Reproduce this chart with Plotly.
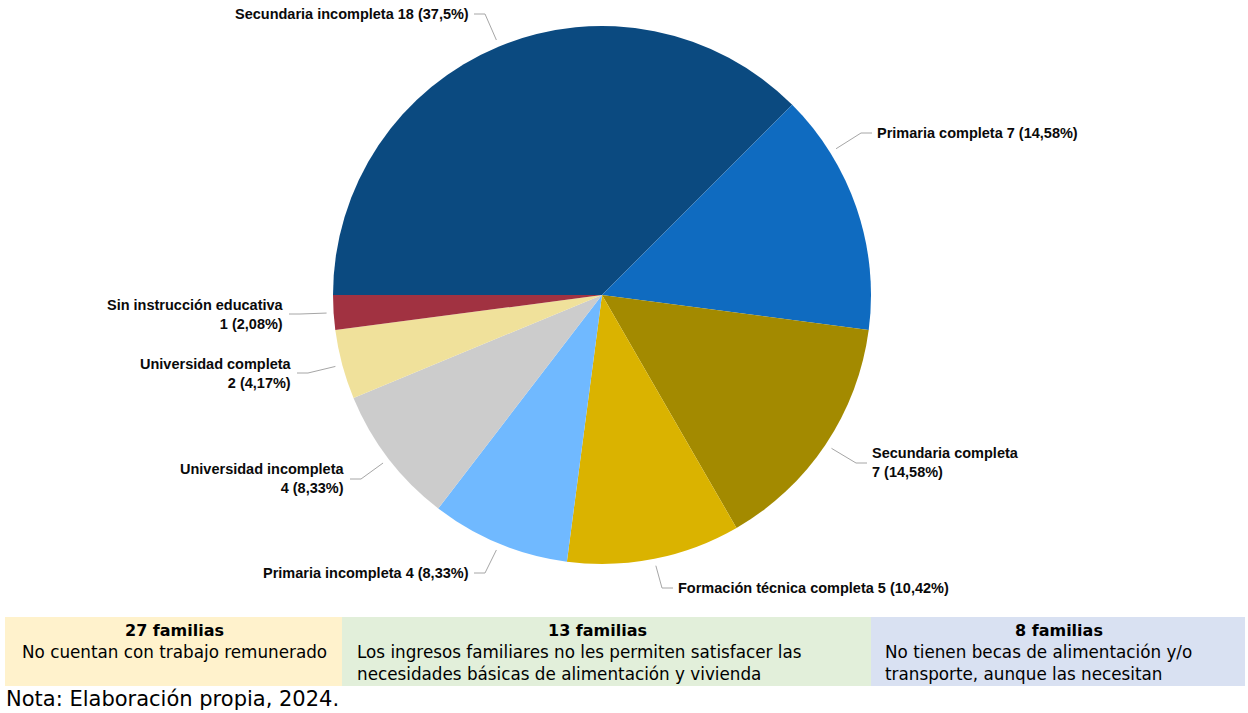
import math
import plotly.graph_objects as go

# ---------------- data ----------------
categories = [
    "Secundaria incompleta",
    "Primaria completa",
    "Secundaria completa",
    "Formación técnica completa",
    "Primaria incompleta",
    "Universidad incompleta",
    "Universidad completa",
    "Sin instrucción educativa",
]
values = [18, 7, 7, 5, 4, 4, 2, 1]
slice_colors = ["#0b4a80", "#0f6bc0", "#a38a00", "#dab300",
                "#70b9ff", "#cccccc", "#f0e19b", "#a13241"]

box_counts = ["27 familias", "13 familias", "8 familias"]
box_texts = [
    "No cuentan con trabajo remunerado",
    "Los ingresos familiares no les permiten satisfacer las<br>necesidades básicas de alimentación y vivienda",
    "No tienen becas de alimentación y/o<br>transporte, aunque las necesitan",
]
note_text = "Nota: Elaboración propia, 2024."

# ---------------- layout config ----------------
W, H = 1248, 713
CX, CY, R = 602, 295, 269
START_DEG = 270  # first slice starts at 9 o'clock, clockwise

# label placement (pixel text anchor x, centre y, side of line, two-line?)
label_cfg = [
    (470, 14, "right", False),
    (876, 133, "left", False),
    (871, 463, "left", True),
    (677, 588, "left", False),
    (470, 573, "right", False),
    (346, 479, "right", True),
    (293, 373, "right", True),
    (285, 314, "right", True),
]
connector_angle_override = {1: 58}

box_x = [(5, 342), (342, 871), (871, 1245)]
box_y = (617, 686)
box_colors = ["#fff2cc", "#e2efda", "#d9e1f2"]
box_title_x = [174, 597, 1059]
box_text_cfg = [(174, "center"), (356, "left"), (884, "left")]

BOX_FONT = "DejaVu Sans, Liberation Sans, Arial, sans-serif"
LABEL_FONT = "Liberation Sans, Arial, sans-serif"


def px(x):
    return x / W


def py(y):
    return 1 - y / H


def fmt_pct(p):
    s = f"{p:.2f}".rstrip("0").rstrip(".")
    return s.replace(".", ",")


total = sum(values)

fig = go.Figure()
fig.add_trace(go.Pie(
    labels=categories,
    values=values,
    sort=False,
    direction="clockwise",
    rotation=-90,
    marker=dict(colors=slice_colors, line=dict(width=0)),
    textinfo="none",
    showlegend=False,
    domain=dict(x=[px(CX - R), px(CX + R)], y=[py(CY + R), py(CY - R)]),
))

shapes = []
annotations = []

cum = 0
for i, (cat, v) in enumerate(zip(categories, values)):
    mid = START_DEG + (cum + v / 2) / total * 360
    cum += v
    ang = connector_angle_override.get(i, mid)
    a = math.radians(ang)
    rr = R + 7
    ax_ = CX + rr * math.sin(a)
    ay_ = CY - rr * math.cos(a)
    tx, ty, side, two = label_cfg[i]
    sgn = -1 if side == "left" else 1
    ex, ey = tx + sgn * 15, ty
    fx, fy = tx + sgn * 4, ty
    shapes.append(dict(
        type="path", xref="paper", yref="paper",
        path=f"M {px(ax_)} {py(ay_)} L {px(ex)} {py(ey)} L {px(fx)} {py(fy)}",
        line=dict(color="#a6a6a6", width=1),
    ))
    pct = fmt_pct(v / total * 100)
    if two:
        txt = f"<b>{cat}<br>{v} ({pct}%)</b>"
    else:
        txt = f"<b>{cat} {v} ({pct}%)</b>"
    annotations.append(dict(
        x=px(tx), y=py(ty), xref="paper", yref="paper",
        text=txt, showarrow=False,
        xanchor="right" if side == "right" else "left",
        yanchor="middle",
        align="right" if side == "right" else "left",
        font=dict(family=LABEL_FONT, size=14.5, color="#0a0a0a"),
        borderpad=0,
    ))

for i in range(3):
    x0, x1 = box_x[i]
    shapes.append(dict(
        type="rect", xref="paper", yref="paper",
        x0=px(x0), x1=px(x1), y0=py(box_y[1]), y1=py(box_y[0]),
        fillcolor=box_colors[i], line=dict(width=0), layer="below",
    ))
    annotations.append(dict(
        x=px(box_title_x[i]), y=py(630), xref="paper", yref="paper",
        text=f"<b>{box_counts[i]}</b>", showarrow=False,
        xanchor="center", yanchor="middle",
        font=dict(family=BOX_FONT, size=16, color="#000000"),
        borderpad=0,
    ))
    tx, al = box_text_cfg[i]
    annotations.append(dict(
        x=px(tx), y=py(641), xref="paper", yref="paper",
        text=box_texts[i], showarrow=False,
        xanchor=al, yanchor="top", align=al,
        font=dict(family=BOX_FONT, size=16.8, color="#000000"),
        borderpad=0,
    ))

annotations.append(dict(
    x=px(5), y=py(699), xref="paper", yref="paper",
    text=note_text, showarrow=False,
    xanchor="left", yanchor="middle",
    font=dict(family=BOX_FONT, size=21, color="#000000"),
    borderpad=0,
))

fig.update_layout(
    width=W, height=H,
    autosize=False,
    margin=dict(l=0, r=0, t=0, b=0),
    paper_bgcolor="#ffffff",
    plot_bgcolor="#ffffff",
    shapes=shapes,
    annotations=annotations,
)

fig.write_html(
    "out.html",
    config={"displayModeBar": False},
    post_script="document.body.style.margin='0';document.body.style.overflow='hidden';",
)
